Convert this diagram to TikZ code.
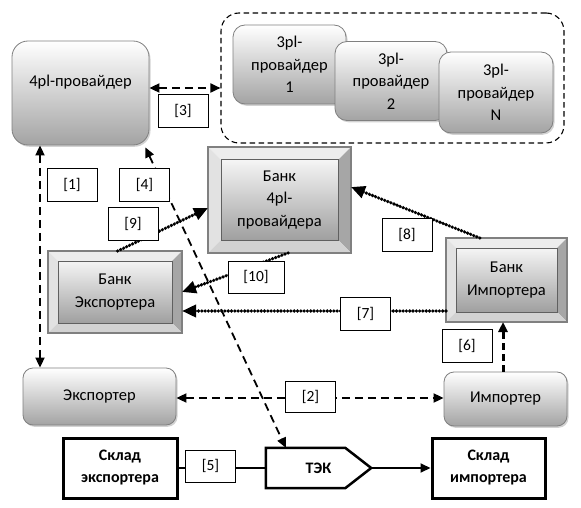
\documentclass[tikz,border=0pt]{standalone}
\usepackage{fontspec}
\setmainfont{Carlito}
\usetikzlibrary{arrows.meta,calc,shadows}
\definecolor{boxline}{HTML}{808080}
\definecolor{innerline}{HTML}{606060}
\definecolor{bevT}{HTML}{EDEDED}
\definecolor{bevL}{HTML}{E2E2E2}
\definecolor{bevR}{HTML}{A6A6A6}
\definecolor{bevB}{HTML}{D2D2D2}
\newcommand\bankbox[7]{%
  \node[bouter, minimum width=#4pt, minimum height=#5pt] (#1) at (#2,#3) {};
  \fill[bevT] (#1.north west) -- (#1.north east) -- ($(#1.north east)+(-#6pt,-#6pt)$) -- ($(#1.north west)+(#6pt,-#6pt)$) -- cycle;
  \fill[bevL] (#1.north west) -- ($(#1.north west)+(#6pt,-#6pt)$) -- ($(#1.south west)+(#6pt,#6pt)$) -- (#1.south west) -- cycle;
  \fill[bevR] (#1.north east) -- ($(#1.north east)+(-#6pt,-#6pt)$) -- ($(#1.south east)+(-#6pt,#6pt)$) -- (#1.south east) -- cycle;
  \fill[bevB] (#1.south west) -- ($(#1.south west)+(#6pt,#6pt)$) -- ($(#1.south east)+(-#6pt,#6pt)$) -- (#1.south east) -- cycle;
  \draw[boxline, line width=1.2pt] (#1.north west) rectangle (#1.south east);
  \node[binner, minimum width={#4pt-2*#6pt}, minimum height={#5pt-2*#6pt}] (#1-in) at (#2,#3) {#7};
}
\begin{document}
\begin{tikzpicture}[x=1pt,y=-1pt,
  txt/.style={font=\fontsize{16.5}{22.5}\selectfont, align=center},
  rbox/.style={txt, draw=boxline, line width=0.8pt, rounded corners=12pt,
    top color=white, bottom color=gray!72, inner sep=0pt,
    drop shadow={shadow xshift=1.5pt,shadow yshift=-1.8pt,opacity=0.35}},
  bouter/.style={inner sep=0pt, outer sep=0pt},
  binner/.style={txt, draw=innerline, line width=1pt, top color=gray!8, bottom color=gray!75, inner sep=0pt},
  sklad/.style={draw, line width=3pt, fill=white, inner sep=0pt,
    font=\bfseries\fontsize{16}{22}\selectfont, align=center, minimum height=60pt},
  lab/.style={draw, fill=white, line width=0.8pt, minimum width=50pt, minimum height=33pt,
    font=\fontsize{15.5}{17}\selectfont, inner sep=0pt},
  dashln/.style={line width=1.8pt, dash pattern=on 8pt off 5pt},
  dtip/.style={{Triangle[length=10pt,width=9pt]}-{Triangle[length=10pt,width=9pt]}},
  dotline/.style={line width=3.6pt, dash pattern=on 0pt off 3.3pt, line cap=round,
    -{Triangle[length=14pt,width=12pt]}},
]
\useasboundingbox[fill=white] (0,0) rectangle (581,508);

% 3pl group
\node[draw, line width=1.1pt, dash pattern=on 5.5pt off 3.5pt, rounded corners=18pt,
  minimum width=343pt, minimum height=130pt] (cont) at (392.5,78) {};
\node[rbox, minimum width=113pt, minimum height=79pt] (p31) at (289.5,64.5) {3pl-\\провайдер\\1};
\node[rbox, minimum width=112pt, minimum height=79pt] (p32) at (391,81) {3pl-\\провайдер\\2};
\node[rbox, minimum width=114pt, minimum height=81pt] (p3n) at (496,92.5) {3pl-\\провайдер\\N};

% 4pl provider
\node[rbox, rounded corners=16pt, minimum width=137pt, minimum height=104pt, text depth=25pt] (p4) at (80.5,93) {4pl-провайдер};

% banks
\bankbox{b4}{279.5}{200}{143}{106}{13}{Банк\\4pl-\\провайдера}
\bankbox{bexp}{115}{292}{134}{82}{10}{Банк\\Экспортера}
\bankbox{bimp}{506.5}{280}{121}{84}{10}{Банк\\Импортера}

% exporter / importer
\node[rbox, rounded corners=10pt, minimum width=153pt, minimum height=57pt] (exp) at (99.5,396.5) {Экспортер};
\node[rbox, rounded corners=10pt, minimum width=123pt, minimum height=54pt] (imp) at (505.5,399) {Импортер};

% warehouses and TEK
\node[sklad, minimum width=114pt] (sklE) at (120,468) {Склад\\экспортера};
\node[sklad, minimum width=113pt] (sklI) at (488.5,468) {Склад\\импортера};
\node[font=\bfseries\fontsize{16}{18}\selectfont, minimum width=105pt, minimum height=40pt, inner sep=0pt] (tek) at (318.5,468) {ТЭК};
\draw[line width=2.5pt, line join=miter] (tek.north west) -- ($(tek.north east)+(-26pt,0)$) -- (tek.east)
  -- ($(tek.south east)+(-26pt,0)$) -- (tek.south west) -- cycle;

% helper coordinates
\coordinate (c1) at (40,0);
\coordinate (c3) at (0,88);
\coordinate (c2) at (0,398);
\coordinate (c7) at (0,311);
\coordinate (c6) at (503,0);

% connectors
\draw[dashln, dtip] (p4.south -| c1) -- (exp.north -| c1);
\draw[dashln, dtip] (p4.east |- c3) -- (cont.west |- c3);
\draw[dashln, dtip] ($(p4.south east)+(-4pt,-2pt)$) -- ($(tek.north west)+(20pt,0)$);
\draw[dashln, dtip] (exp.east |- c2) -- (imp.west |- c2);
\draw[line width=2pt] (sklE.east) -- (tek.west);
\draw[line width=2pt, -{Triangle[length=10pt,width=9pt]}] (tek.east) -- (sklI.west);
\draw[line width=3pt, dash pattern=on 7pt off 4pt, -{Triangle[length=10pt,width=9pt]}] (imp.north -| c6) -- (bimp.south -| c6);
\draw[dotline] (bimp.west |- c7) -- (bexp.east |- c7);
\draw[dotline] ($(bimp.north west)!0.28!(bimp.north east)$) -- ($(b4.east)+(0,13pt)$);
\draw[dotline] ($(bexp.north west)!0.52!(bexp.north east)$) -- ($(b4.west)+(0,-8pt)$);
\draw[dotline] ($(b4.south west)!0.56!(b4.south east)$) -- (bexp.east);

% labels
\node[lab] (l1) at (72,184.5) {[1]};
\node[lab] (l3) at (183,110.5) {[3]};
\node[lab] (l4) at (144.5,184.5) {[4]};
\node[lab] (l9) at (133,223.5) {[9]};
\node[lab] (l8) at (407,234.5) {[8]};
\node[lab, minimum width=56pt, minimum height=32pt] (l10) at (256,277) {[10]};
\node[lab] (l7) at (365.5,314) {[7]};
\node[lab] (l6) at (467,345.5) {[6]};
\node[lab, minimum height=31pt] (l2) at (310.5,396.5) {[2]};
\node[lab, minimum height=32pt] (l5) at (210.5,466) {[5]};
\end{tikzpicture}
\end{document}
